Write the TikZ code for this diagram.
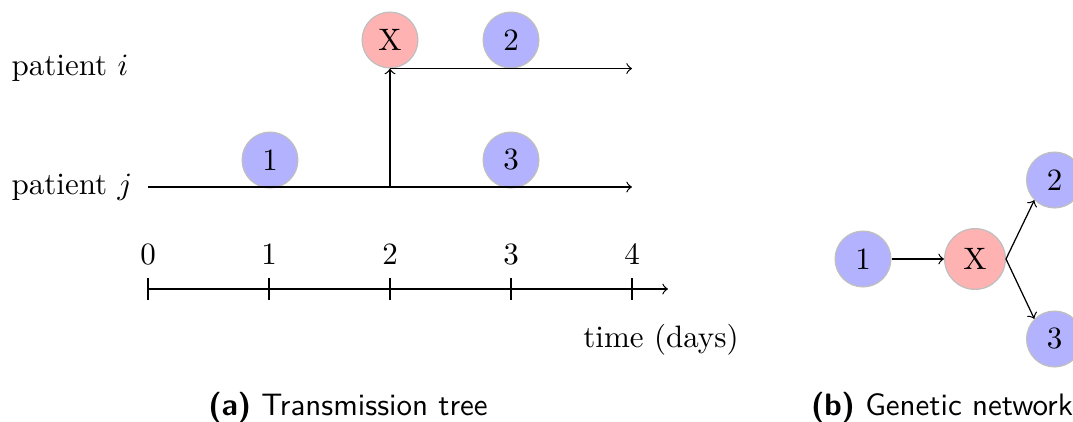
\documentclass[tikz,border=0pt]{standalone}
\begin{document}
\begin{tikzpicture}[x=0.3226pt,y=-0.3226pt,
  ev/.style={circle,draw=black!25,minimum size=18pt,inner sep=0pt},
  blu/.style={ev,fill=blue!30},
  infx/.style={ev,fill=red!30},
  tickline/.style={black},
  captext/.style={font=\sffamily}]
\useasboundingbox (0,0) rectangle (1073,421);
% (a) transmission tree
\node[infx] (Xi) at (390,40) {X};
\node[blu] (n2) at (511,40) {2};
\node[blu] (n1) at (270,160) {1};
\node[blu] (n3) at (511,160) {3};
\node[anchor=west,inner sep=0pt] (pi) at (11,68) {patient $i$};
\node[anchor=west,inner sep=0pt] (pj) at (11,187) {patient $j$};
\coordinate (js) at (148,187);
\coordinate (je) at (632,187);
\coordinate (jx) at (390,187);
\coordinate (ie) at (632,68);
\draw[->] (js) -- (je);
\draw[->] (jx) -- (Xi.south);
\draw[->] (Xi.south) -- (Xi.south -| ie);
% time axis
\coordinate (a0) at (148,289);
\coordinate (aend) at (668,289);
\draw[->] (a0) -- (aend);
\foreach \k in {0,1,2,3,4}{
  \draw[tickline] (148+121*\k,278) -- (148+121*\k,300);
  \node (t\k) at (148+121*\k,255) {$\k$};
}
\node (tl) at (661,340) {time (days)};
\node[captext] (capa) at (348,408) {\textbf{(a)} Transmission tree};
% (b) genetic network
\node[blu] (g1) at (863,259) {1};
\node[infx,minimum size=19.6pt] (gX) at (975,259) {X};
\node[blu] (g2) at (1054.5,180) {2};
\node[blu] (g3) at (1054.5,339) {3};
\draw[->] (g1.east) -- (gX.west);
\draw[->] (gX.east) -- (g2.south west);
\draw[->] (gX.east) -- (g3.north west);
\node[captext] (capb) at (942,408) {\textbf{(b)} Genetic network};
\end{tikzpicture}
\end{document}
